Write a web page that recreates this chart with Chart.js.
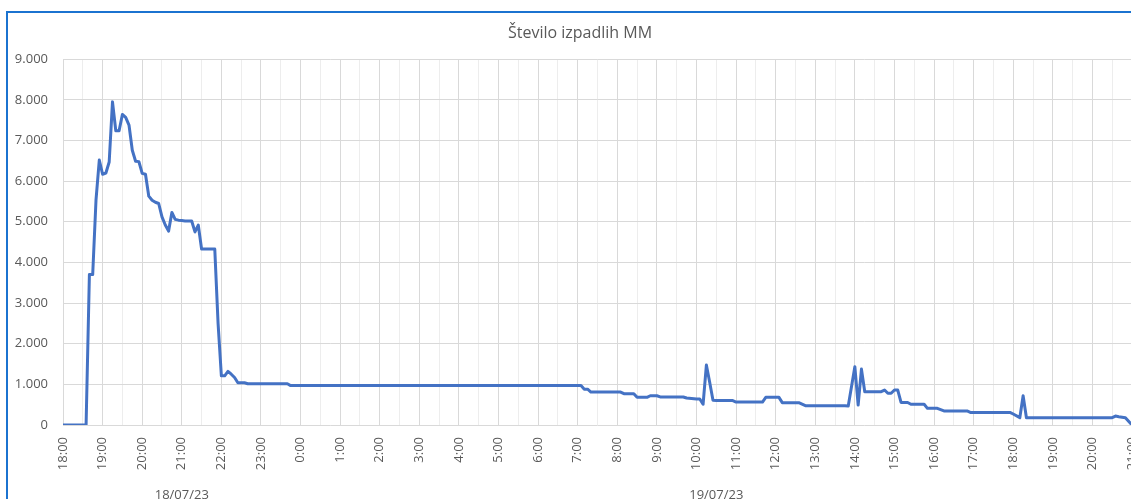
<!DOCTYPE html>
<html>
<head>
<meta charset="utf-8">
<title>Število izpadlih MM</title>
<script src="https://cdn.jsdelivr.net/npm/chart.js@4/dist/chart.umd.min.js"></script>
<style>
  html, body { margin: 0; padding: 0; overflow: hidden; background: #fff; }
  #wrap { position: relative; width: 1131px; height: 499px; overflow: hidden; }
  #chart { position: absolute; left: 0; top: 0; }
  #frame {
    position: absolute; left: 6px; top: 11px; width: 2000px; height: 2000px;
    border-left: 2px solid #1b73d0; border-top: 2px solid #1b73d0;
    pointer-events: none;
  }
</style>
</head>
<body>
<div id="wrap">
  <canvas id="chart" width="1160" height="520"></canvas>
  <div id="frame"></div>
</div>
<script>
const chartTitle = "Število izpadlih MM";
const startHour = 18;
const days = ["18/07/23", "19/07/23"];

// sample times (18/07 18:00 -> 19/07 21:00) and number of MM down
const times = [
  "18:00", "18:35", "18:40", "18:45", "18:50", "18:55",
  "19:00", "19:05", "19:10", "19:15", "19:20", "19:25", "19:30", "19:35", "19:40", "19:45", "19:50", "19:55",
  "20:00", "20:05", "20:10", "20:15", "20:20", "20:25", "20:30", "20:35", "20:40", "20:45", "20:50", "20:55",
  "21:00", "21:05", "21:10", "21:15", "21:20", "21:25", "21:30", "21:50", "21:55",
  "22:00", "22:05", "22:10", "22:15", "22:20", "22:25", "22:35", "22:40",
  "23:40", "23:45",
  "07:05", "07:10", "07:15", "07:20",
  "08:05", "08:10", "08:25", "08:30", "08:45", "08:50",
  "09:00", "09:05", "09:40", "09:45",
  "10:00", "10:05", "10:10", "10:15", "10:20", "10:25", "10:30", "10:55",
  "11:00", "11:40", "11:45",
  "12:05", "12:10", "12:35", "12:45",
  "13:45", "13:50",
  "14:00", "14:05", "14:10", "14:15", "14:40", "14:45", "14:50", "14:55",
  "15:00", "15:05", "15:10", "15:20", "15:25", "15:45", "15:50",
  "16:05", "16:15", "16:50", "16:55",
  "17:55", "18:00", "18:10", "18:15", "18:20",
  "20:30", "20:35", "20:40", "20:50", "21:00"
];
const values = [
  0, 0, 3700, 3700, 5530, 6520,
  6170, 6200, 6470, 7950, 7240, 7240, 7640, 7570, 7380, 6760, 6490, 6480,
  6190, 6170, 5630, 5530, 5480, 5450, 5120, 4920, 4770, 5230, 5060, 5040,
  5030, 5020, 5020, 5020, 4750, 4920, 4330, 4330, 2500,
  1210, 1210, 1320, 1250, 1170, 1040, 1040, 1015,
  1015, 970,
  970, 880, 880, 810,
  810, 770, 770, 680, 680, 720,
  720, 690, 690, 665,
  640, 640, 510, 1475, 1050, 610, 600, 600,
  565, 565, 680,
  680, 550, 550, 475,
  475, 465,
  1435, 490, 1375, 820, 820, 860, 780, 780,
  860, 860, 555, 555, 510, 510, 410,
  410, 345, 345, 310,
  310, 270, 180, 720, 180,
  180, 220, 205, 180, 0
];

const yTicksMax = 9000;
const yStep = 1000;

// minutes since the first day's 18:00, rolling over midnight
function toMinutes(list) {
  let dayOffset = 0, prev = -1;
  return list.map((t) => {
    const [h, m] = t.split(":").map(Number);
    let mins = h * 60 + m;
    if (mins < prev) dayOffset += 1440;
    prev = mins;
    return mins + dayOffset - startHour * 60;
  });
}

const xs = toMinutes(times);
const points = xs.map((x, i) => ({ x: x, y: values[i] }));
const xMax = xs[xs.length - 1];
const midnight = (24 - startHour) * 60;

function fmtThousands(v) {
  return v === 0 ? "0" : String(v).replace(/\B(?=(\d{3})+(?!\d))/g, ".");
}

// day names under the hour labels, centred on each day's span
const dayLabels = {
  id: "dayLabels",
  afterLayout(chart) {
    // centre the title on the whole chart box, like Excel does
    if (chart.titleBlock) chart.titleBlock.right = chart.width;
  },
  afterDraw(chart) {
    const sx = chart.scales.x;
    const ctx = chart.ctx;
    const bounds = [0, midnight, xMax];
    ctx.save();
    ctx.font = "13px 'Open Sans'";
    ctx.fillStyle = "#595959";
    ctx.textAlign = "center";
    ctx.textBaseline = "alphabetic";
    days.forEach((d, i) => {
      const cx = (sx.getPixelForValue(bounds[i]) + sx.getPixelForValue(bounds[i + 1])) / 2;
      ctx.fillText(d, cx, 499);
    });
    ctx.restore();
  },
};

new Chart(document.getElementById("chart"), {
  type: "line",
  data: {
    datasets: [{
      label: chartTitle,
      data: points,
      borderColor: "#4472c4",
      borderWidth: 3,
      borderJoinStyle: "round",
      borderCapStyle: "round",
      pointRadius: 0,
      tension: 0,
      fill: false,
    }],
  },
  options: {
    responsive: false,
    animation: false,
    layout: { padding: { left: 0, right: 28, top: 0, bottom: 0 } },
    plugins: {
      legend: { display: false },
      tooltip: { enabled: false },
      title: {
        display: true,
        text: chartTitle,
        color: "#595959",
        font: { family: "'Open Sans'", size: 16, weight: "normal" },
        padding: { top: 24, bottom: 16 },
      },
    },
    scales: {
      x: {
        type: "linear",
        min: 0,
        max: xMax,
        border: { display: false },
        grid: {
          drawTicks: false,
          color: (c) => (c.tick && c.tick.value % 60 === 0 ? "#d9d9d9" : "#ededed"),
        },
        ticks: {
          stepSize: 30,
          autoSkip: false,
          minRotation: 90,
          maxRotation: 90,
          padding: 12,
          color: "#595959",
          font: { family: "'Open Sans'", size: 13 },
          callback: (v) => (v % 60 === 0 ? ((startHour + v / 60) % 24) + ":00" : ""),
        },
        afterFit: (s) => { s.height = 95; },
      },
      y: {
        min: 0,
        max: yTicksMax,
        border: { display: false },
        grid: { drawTicks: false, color: "#d9d9d9" },
        ticks: {
          stepSize: yStep,
          padding: 15,
          color: "#595959",
          font: { family: "'Open Sans'", size: 13 },
          callback: (v) => fmtThousands(v),
        },
        afterFit: (s) => { s.width = 63; },
      },
    },
  },
  plugins: [dayLabels],
});
</script>
</body>
</html>
